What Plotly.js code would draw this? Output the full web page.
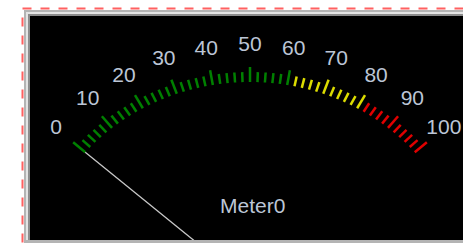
<!DOCTYPE html>
<html><head><meta charset="utf-8">
<script src="https://cdn.plot.ly/plotly-3.0.1.min.js"></script>
<style>html,body{margin:0;padding:0;background:#fff;overflow:hidden}</style>
</head><body><div id="chart" style="width:463px;height:243px"></div>
<script>
// ---- data ----
const meterName = "Meter0";
const scaleLabels = [0, 10, 20, 30, 40, 50, 60, 70, 80, 90, 100];
const tickValues = [0, 2, 4, 6, 8, 10, 12, 14, 16, 18, 20, 22, 24, 26, 28, 30, 32, 34, 36, 38, 40,
  42, 44, 46, 48, 50, 52, 54, 56, 58, 60, 62, 64, 66, 68, 70, 72, 74, 76, 78, 80,
  82, 84, 86, 88, 90, 92, 94, 96, 98, 100];
const majorTicks = [0, 10, 20, 30, 40, 50, 60, 70, 80, 90, 100];
const zoneStarts = [0, 61, 81];
const zoneEnds = [60, 80, 100];
const zoneColors = ["#008000", "#dcdc00", "#e00000"];
const needleValue = 0;
const scaleMin = 0, scaleMax = 100;

// ---- dial geometry (pixel space) ----
const CX = 250, CY = 286, KX = 1.07;
const A0 = 139, A1 = 41;          // degrees for min / max
const R_IN = 204, R_MINOR = 214, R_MAJOR = 219, R_LABEL = 240;

function ang(v) { return (A0 - (v - scaleMin) / (scaleMax - scaleMin) * (A0 - A1)) * Math.PI / 180; }
function pt(v, r) { const a = ang(v); return [CX + KX * r * Math.cos(a), CY - r * Math.sin(a)]; }

const FONT = { family: "Liberation Sans, Arial, sans-serif", size: 21, color: "#bcc6d6" };

const traces = [];
for (let z = 0; z < zoneColors.length; z++) {
  const xs = [], ys = [];
  tickValues.filter(v => v >= zoneStarts[z] && v <= zoneEnds[z]).forEach(v => {
    const rOut = majorTicks.includes(v) ? R_MAJOR : R_MINOR;
    const p1 = pt(v, R_IN), p2 = pt(v, rOut);
    xs.push(p1[0], p2[0], null); ys.push(p1[1], p2[1], null);
  });
  traces.push({ x: xs, y: ys, mode: "lines", line: { color: zoneColors[z], width: 2.5 }, hoverinfo: "skip" });
}
// labels
traces.push({
  x: scaleLabels.map(v => pt(v, R_LABEL)[0]),
  y: scaleLabels.map(v => pt(v, R_LABEL)[1]),
  text: scaleLabels.map(String), mode: "text", textposition: "middle center",
  textfont: FONT, hoverinfo: "skip"
});
// needle
const np = pt(needleValue, R_IN);
traces.push({ x: [np[0], CX], y: [np[1], CY], mode: "lines", line: { color: "#c8c8c8", width: 1.3 }, hoverinfo: "skip" });

const layout = {
  width: 463, height: 243, margin: { l: 0, r: 0, t: 0, b: 0 },
  paper_bgcolor: "#ffffff", plot_bgcolor: "rgba(0,0,0,0)", showlegend: false,
  xaxis: { range: [0, 463], visible: false, fixedrange: true },
  yaxis: { range: [243, 0], visible: false, fixedrange: true },
  shapes: [
    { type: "rect", layer: "below", x0: 24, y0: 10, x1: 480, y1: 260, fillcolor: "#b4b4b4", line: { width: 0 } },
    { type: "rect", layer: "below", x0: 26, y0: 12, x1: 480, y1: 260, fillcolor: "#e4e4e4", line: { width: 0 } },
    { type: "rect", layer: "below", x0: 28, y0: 14, x1: 480, y1: 260, fillcolor: "#8c8c8c", line: { width: 0 } },
    { type: "rect", layer: "below", x0: 30, y0: 16, x1: 480, y1: 240, fillcolor: "#000000", line: { width: 0 } },
    { type: "rect", layer: "above", x0: 24, y0: 240, x1: 480, y1: 260, fillcolor: "#b4b4b4", line: { width: 0 } },
    { type: "rect", layer: "above", x0: 22.5, y0: 8.5, x1: 490, y1: 270, fillcolor: "rgba(0,0,0,0)", line: { color: "#ff6060", width: 2, dash: "dash" } }
  ],
  annotations: [
    { x: 252, y: 205, xref: "x", yref: "y", text: meterName, showarrow: false, font: FONT }
  ]
};
Plotly.newPlot("chart", traces, layout, { staticPlot: true, displayModeBar: false });
</script></body></html>
